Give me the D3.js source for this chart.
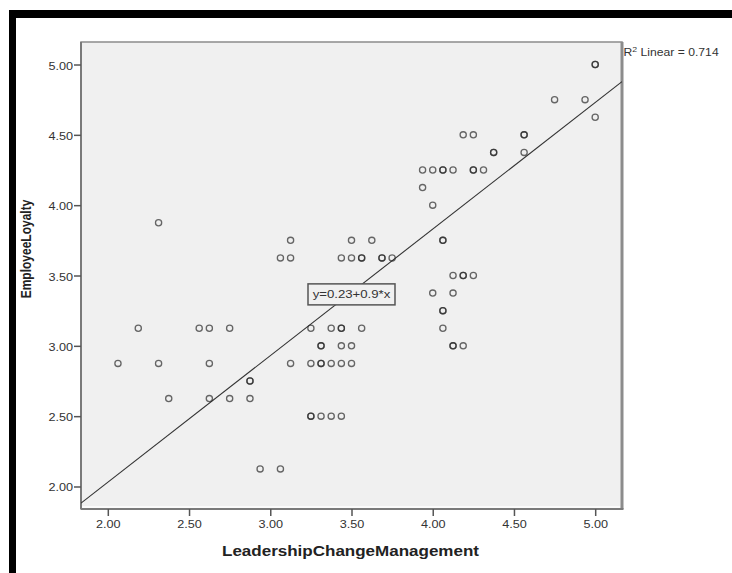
<!DOCTYPE html>
<html>
<head>
<meta charset="utf-8">
<script src="https://cdn.jsdelivr.net/npm/d3@7"></script>
<style>
  html, body { margin: 0; padding: 0; background: #fff; }
  svg { display: block; font-family: Arial, "Liberation Sans", sans-serif; }
</style>
</head>
<body>
<svg id="chart" width="732" height="573"></svg>
<script>
// Respondent scores (mean of Likert items); repeated pairs are overlapping respondents
const leadership = [
  2.9375, 3.0625,
  3.25, 3.25, 3.3125, 3.375, 3.4375,
  2.375, 2.625, 2.75, 2.875,
  2.875, 2.875,
  2.0625, 2.3125, 2.625, 3.125, 3.25, 3.3125, 3.3125, 3.375, 3.4375, 3.5,
  3.3125, 3.3125, 3.4375, 3.5, 4.125, 4.125, 4.1875,
  2.1875, 2.5625, 2.625, 2.75, 3.25, 3.375, 3.4375, 3.4375, 3.5625, 4.0625,
  4.0625, 4.0625,
  4.0, 4.125,
  4.125, 4.1875, 4.1875, 4.25,
  3.0625, 3.125, 3.4375, 3.5, 3.5625, 3.5625, 3.6875, 3.6875, 3.75,
  3.125, 3.5, 3.625, 4.0625, 4.0625,
  2.3125,
  4.0,
  3.9375,
  3.9375, 4.0, 4.0625, 4.0625, 4.125, 4.25, 4.25, 4.3125,
  4.375, 4.375, 4.5625,
  4.1875, 4.25, 4.5625, 4.5625,
  5.0,
  4.75, 4.9375,
  5.0, 5.0
];
const loyalty = [
  2.125, 2.125,
  2.5, 2.5, 2.5, 2.5, 2.5,
  2.625, 2.625, 2.625, 2.625,
  2.75, 2.75,
  2.875, 2.875, 2.875, 2.875, 2.875, 2.875, 2.875, 2.875, 2.875, 2.875,
  3.0, 3.0, 3.0, 3.0, 3.0, 3.0, 3.0,
  3.125, 3.125, 3.125, 3.125, 3.125, 3.125, 3.125, 3.125, 3.125, 3.125,
  3.25, 3.25,
  3.375, 3.375,
  3.5, 3.5, 3.5, 3.5,
  3.625, 3.625, 3.625, 3.625, 3.625, 3.625, 3.625, 3.625, 3.625,
  3.75, 3.75, 3.75, 3.75, 3.75,
  3.875,
  4.0,
  4.125,
  4.25, 4.25, 4.25, 4.25, 4.25, 4.25, 4.25, 4.25,
  4.375, 4.375, 4.375,
  4.5, 4.5, 4.5, 4.5,
  4.625,
  4.75, 4.75,
  5.0, 5.0
];
const xTicks = [2.0, 2.5, 3.0, 3.5, 4.0, 4.5, 5.0];
const yTicks = [2.0, 2.5, 3.0, 3.5, 4.0, 4.5, 5.0];
const fitIntercept = 0.23;
const fitSlope = 0.9;
const fitR2 = 0.714;
const fitLabelAt = 3.5;
const xTitle = "LeadershipChangeManagement";
const yTitle = "EmployeeLoyalty";

const svg = d3.select("#chart");
const plot = { left: 81, top: 42, right: 622, bottom: 509 };
const stretch = 1.15;

const x = d3.scaleLinear().domain([1.835, 5.165]).range([plot.left, plot.right]);
const y = d3.scaleLinear().domain([1.84, 5.16]).range([plot.bottom, plot.top]);

// Heavy black page frame, top and left
svg.append("rect").attr("x", 9).attr("y", 10).attr("width", 723).attr("height", 8).attr("fill", "#000");
svg.append("rect").attr("x", 9).attr("y", 10).attr("width", 7).attr("height", 563).attr("fill", "#000");

// Plot panel
svg.append("rect")
  .attr("x", plot.left).attr("y", plot.top)
  .attr("width", plot.right - plot.left).attr("height", plot.bottom - plot.top)
  .attr("fill", "#f0f0f0").attr("stroke", "#8c8c8c").attr("stroke-width", 1.5);
svg.append("line")
  .attr("x1", plot.right).attr("x2", plot.right).attr("y1", plot.top).attr("y2", plot.bottom)
  .attr("stroke", "#8c8c8c").attr("stroke-width", 3);
svg.append("line")
  .attr("x1", plot.left + 1).attr("x2", plot.right - 2).attr("y1", plot.bottom - 2).attr("y2", plot.bottom - 2)
  .attr("stroke", "#ffffff").attr("stroke-width", 1.5);
svg.append("line")
  .attr("x1", plot.left).attr("x2", plot.right + 1.5).attr("y1", plot.bottom).attr("y2", plot.bottom)
  .attr("stroke", "#7a7a7a").attr("stroke-width", 2);
svg.append("line")
  .attr("x1", plot.left).attr("x2", plot.left).attr("y1", plot.top).attr("y2", plot.bottom)
  .attr("stroke", "#7a7a7a").attr("stroke-width", 2);

const fmt = d3.format(".2f");

// X axis
const gx = svg.append("g").attr("transform", `translate(0,${plot.bottom})`)
  .call(d3.axisBottom(x).tickValues(xTicks).tickFormat(fmt).tickSize(7).tickSizeOuter(0));
gx.select(".domain").remove();
gx.selectAll(".tick line").attr("stroke", "#555").attr("stroke-width", 1.5);
gx.selectAll(".tick text")
  .attr("y", null).attr("dy", null)
  .attr("transform", `translate(0,19) scale(${stretch},1)`)
  .attr("font-size", 11).attr("fill", "#333")
  .style("font-family", "Arial, 'Liberation Sans', sans-serif");

// Y axis
const gy = svg.append("g").attr("transform", `translate(${plot.left},0)`)
  .call(d3.axisLeft(y).tickValues(yTicks).tickFormat(fmt).tickSize(7).tickSizeOuter(0));
gy.select(".domain").remove();
gy.selectAll(".tick line").attr("stroke", "#555").attr("stroke-width", 1.5);
gy.selectAll(".tick text")
  .attr("x", null).attr("dy", null)
  .attr("transform", `translate(-8,4.5) scale(${stretch},1)`)
  .attr("font-size", 11).attr("fill", "#333")
  .style("font-family", "Arial, 'Liberation Sans', sans-serif");

// Clip for marks
svg.append("clipPath").attr("id", "plotClip").append("rect")
  .attr("x", plot.left).attr("y", plot.top)
  .attr("width", plot.right - plot.left).attr("height", plot.bottom - plot.top);

// Fitted line
const [x0, x1] = x.domain();
svg.append("line")
  .attr("clip-path", "url(#plotClip)")
  .attr("x1", x(x0)).attr("y1", y(fitIntercept + fitSlope * x0))
  .attr("x2", x(x1)).attr("y2", y(fitIntercept + fitSlope * x1))
  .attr("stroke", "#333").attr("stroke-width", 1.1);

// Points
const pts = leadership.map((v, i) => ({ x: v, y: loyalty[i] }));
svg.append("g").attr("clip-path", "url(#plotClip)")
  .selectAll("circle").data(pts).join("circle")
  .attr("cx", d => x(d.x)).attr("cy", d => y(d.y)).attr("r", 3.1)
  .attr("fill", "none").attr("stroke", "#2a2a2a")
  .attr("stroke-opacity", 0.7).attr("stroke-width", 1.3);

// Equation label on the fitted line
const eqX = x(fitLabelAt);
const eqY = y(fitIntercept + fitSlope * fitLabelAt) + 2;
const eqW = 87, eqH = 21;
svg.append("rect")
  .attr("x", eqX - eqW / 2).attr("y", eqY - eqH / 2)
  .attr("width", eqW).attr("height", eqH)
  .attr("fill", "#f0f0f0").attr("stroke", "#555").attr("stroke-width", 1.5);
svg.append("text")
  .attr("transform", `translate(${eqX},${eqY + 4}) scale(1.2,1)`)
  .attr("text-anchor", "middle").attr("font-size", 11).attr("fill", "#333")
  .text(`y=${fitIntercept}+${fitSlope}*x`);

// R-squared annotation
const r2 = svg.append("text")
  .attr("transform", `translate(${plot.right + 1.5},56) scale(1.16,1)`)
  .attr("font-size", 10.5).attr("fill", "#333");
r2.append("tspan").text("R");
r2.append("tspan").attr("font-size", 7.5).attr("dy", -4).text("2");
r2.append("tspan").attr("dy", 4).text(` Linear = ${fitR2}`);

// Axis titles
svg.append("text")
  .attr("x", (plot.left + plot.right) / 2 - 1).attr("y", 556)
  .attr("text-anchor", "middle").attr("font-size", 14).attr("font-weight", "bold").attr("fill", "#222")
  .attr("textLength", 257).attr("lengthAdjust", "spacingAndGlyphs")
  .text(xTitle);
svg.append("text")
  .attr("transform", `translate(31,249) scale(1.2,1) rotate(-90)`)
  .attr("text-anchor", "middle").attr("font-size", 12).attr("font-weight", "bold").attr("fill", "#222")
  .text(yTitle);
</script>
</body>
</html>
